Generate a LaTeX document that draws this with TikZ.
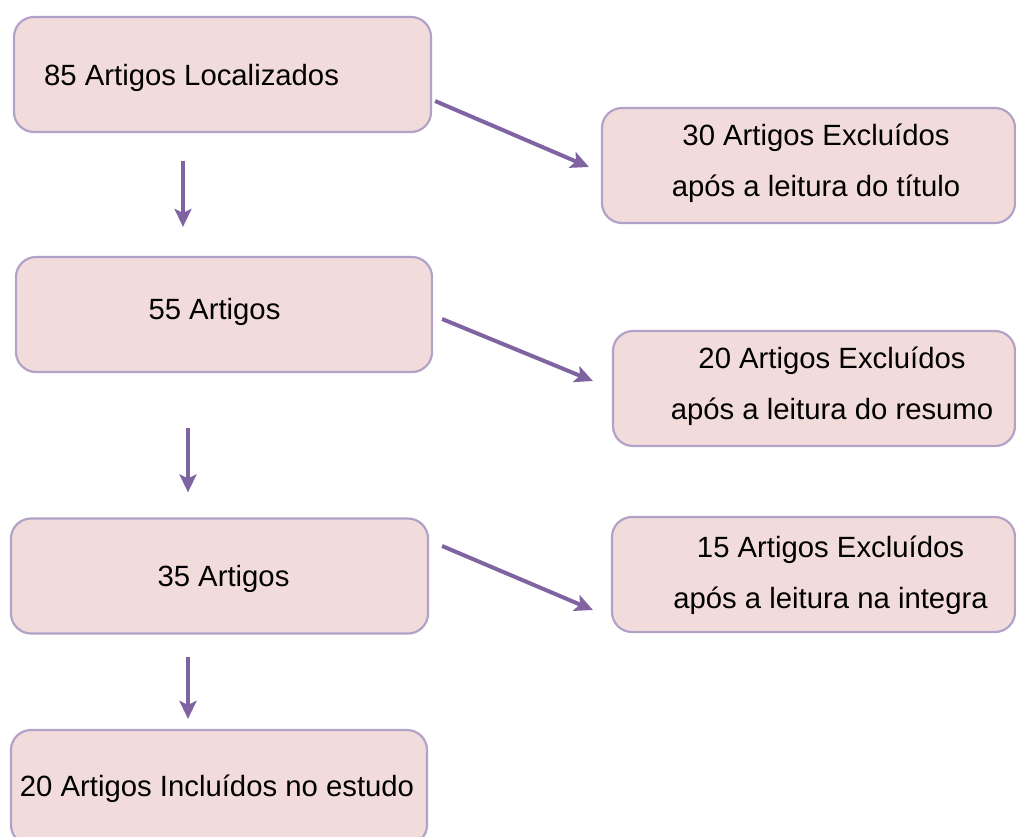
\documentclass[tikz,border=0pt]{standalone}
\usepackage{fontspec}
\setmainfont{Liberation Sans}
\usetikzlibrary{arrows.meta}
\definecolor{boxfill}{HTML}{F2DCDB}
\definecolor{boxline}{HTML}{B3A2C7}
\definecolor{arrowc}{HTML}{8064A2}
\begin{document}
\begin{tikzpicture}[x=1pt,y=-1pt,
  box/.style={draw=boxline, fill=boxfill, line width=2.2pt, rounded corners=20pt,
              minimum width=#1, minimum height=115pt, inner sep=0pt},
  box/.default=417pt,
  lbl/.style={font=\fontsize{29.3}{51}\selectfont, align=center, inner sep=0pt, anchor=base},
  arr/.style={draw=arrowc, line width=4pt, -{Stealth[length=18pt,width=17pt,inset=4pt]}}]
\useasboundingbox (0,0) rectangle (1016,836);
% left column
\node[box=417pt] (b1) at (222.5,74.5) {};
\node[lbl, anchor=base west] (t1) at (44,85) {85 Artigos Localizados};
\node[box=416pt] (b2) at (224,314.5) {};
\node[lbl] (t2) at (214.5,319) {55 Artigos};
\node[box=417pt] (b3) at (219.5,576) {};
\node[lbl] (t3) at (223.5,586) {35 Artigos};
\node[box=416pt] (b4) at (219,787.5) {};
\node[lbl] (t4) at (217,796) {20 Artigos Incluídos no estudo};
% right column
\node[box=413pt] (r1) at (808.5,165.5) {};
\node[lbl] (tr1) at (816,196) {30 Artigos Excluídos\\após a leitura do título};
\node[box=402pt] (r2) at (814,388.5) {};
\node[lbl] (tr2) at (832,419) {20 Artigos Excluídos\\após a leitura do resumo};
\node[box=403pt] (r3) at (813.5,574.5) {};
\node[lbl] (tr3) at (830.5,608) {15 Artigos Excluídos\\após a leitura na integra};
% vertical arrows
\draw[arr] ([shift={(-39.5,28)}]b1.south) -- ([shift={(-41,-29)}]b2.north);
\draw[arr] ([shift={(-36,55)}]b2.south) -- ([shift={(-31.5,-25)}]b3.north);
\draw[arr] ([shift={(-31.5,22)}]b3.south) -- ([shift={(-31,-10)}]b4.north);
% diagonal arrows
\draw[arr] ([shift={(3,26.5)}]b1.east) -- ([shift={(-12,1.5)}]r1.west);
\draw[arr] ([shift={(9,4.5)}]b2.east) -- ([shift={(-19,-7.5)}]r2.west);
\draw[arr] ([shift={(13,-30)}]b3.east) -- ([shift={(-18,35.5)}]r3.west);
\end{tikzpicture}
\end{document}
